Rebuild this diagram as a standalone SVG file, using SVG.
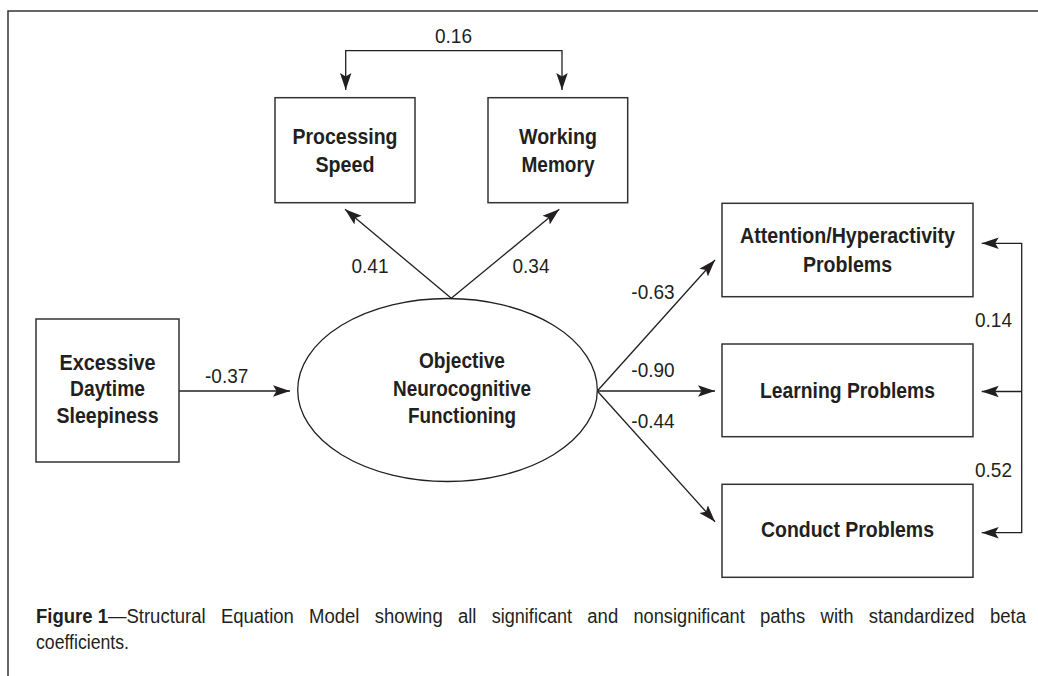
<svg xmlns="http://www.w3.org/2000/svg" width="1038" height="676" viewBox="0 0 1038 676">
<style>
.box{fill:#fff;stroke:#333;stroke-width:1.5}
.ell{fill:#fff;stroke:#231f20;stroke-width:1.3}
.frame{fill:none;stroke:#333;stroke-width:1.5}
.con{fill:none;stroke:#231f20;stroke-width:1.3}
.lbl{font-family:"Liberation Sans",Arial,sans-serif;font-size:22px;font-weight:bold;fill:#231f20;text-anchor:middle}
.num{font-family:"Liberation Sans",Arial,sans-serif;font-size:21px;fill:#231f20;text-anchor:middle}
.cap{font-family:"Liberation Sans",Arial,sans-serif;font-size:19.5px;fill:#231f20}
</style>
<defs>
<marker id="ah" markerWidth="19" markerHeight="13" refX="17" refY="6.5" orient="auto-start-reverse" markerUnits="userSpaceOnUse">
<path d="M0,0.8 L17,6.5 L0,12.2 L3.5,6.5 Z" fill="#231f20"/>
</marker>
</defs>
<rect width="1038" height="676" fill="#fff"/>
<path class="frame" d="M8,676 V11 H1038"/>

<g id="connectors">
<path class="con" d="M345.7,90 V50.7 H562 V90" marker-start="url(#ah)" marker-end="url(#ah)"/>
<line class="con" x1="179" y1="391" x2="290" y2="391" marker-end="url(#ah)"/>
<line class="con" x1="451.3" y1="298.3" x2="345" y2="209.3" marker-end="url(#ah)"/>
<line class="con" x1="451.3" y1="298.3" x2="559.3" y2="209.3" marker-end="url(#ah)"/>
<line class="con" x1="597.3" y1="391" x2="715" y2="260" marker-end="url(#ah)"/>
<line class="con" x1="597.3" y1="391" x2="715" y2="391" marker-end="url(#ah)"/>
<line class="con" x1="597.3" y1="391" x2="715" y2="521.7" marker-end="url(#ah)"/>
<path class="con" d="M981.7,243.3 H1021.7 V532.7 H981.7" marker-start="url(#ah)" marker-end="url(#ah)"/>
<line class="con" x1="1021.7" y1="391.5" x2="981.7" y2="391.5" marker-end="url(#ah)"/>
<text class="num" x="453.5" y="43.3" textLength="37" lengthAdjust="spacingAndGlyphs">0.16</text>
<text class="num" x="226.7" y="383.3" textLength="43.3" lengthAdjust="spacingAndGlyphs">-0.37</text>
<text class="num" x="370" y="272.7" textLength="37" lengthAdjust="spacingAndGlyphs">0.41</text>
<text class="num" x="531" y="272.7" textLength="37" lengthAdjust="spacingAndGlyphs">0.34</text>
<text class="num" x="653" y="299" textLength="43.3" lengthAdjust="spacingAndGlyphs">-0.63</text>
<text class="num" x="653" y="376.7" textLength="43.3" lengthAdjust="spacingAndGlyphs">-0.90</text>
<text class="num" x="653" y="427.7" textLength="43.3" lengthAdjust="spacingAndGlyphs">-0.44</text>
<text class="num" x="993.5" y="326.7" textLength="37" lengthAdjust="spacingAndGlyphs">0.14</text>
<text class="num" x="993.5" y="476.7" textLength="37" lengthAdjust="spacingAndGlyphs">0.52</text>
</g>

<g id="processing-speed">
<rect class="box" x="275" y="97.7" width="140" height="105"/>
<text class="lbl" x="345" y="144" textLength="105" lengthAdjust="spacingAndGlyphs">Processing</text>
<text class="lbl" x="345" y="171.7" textLength="59" lengthAdjust="spacingAndGlyphs">Speed</text>
</g>

<g id="working-memory">
<rect class="box" x="488" y="97.7" width="139.7" height="105"/>
<text class="lbl" x="558" y="144" textLength="78" lengthAdjust="spacingAndGlyphs">Working</text>
<text class="lbl" x="558" y="171.7" textLength="73" lengthAdjust="spacingAndGlyphs">Memory</text>
</g>

<g id="excessive-daytime-sleepiness">
<rect class="box" x="36" y="319" width="143" height="143"/>
<text class="lbl" x="107.5" y="369.5" textLength="96" lengthAdjust="spacingAndGlyphs">Excessive</text>
<text class="lbl" x="107.5" y="396" textLength="75" lengthAdjust="spacingAndGlyphs">Daytime</text>
<text class="lbl" x="107.5" y="422.5" textLength="102" lengthAdjust="spacingAndGlyphs">Sleepiness</text>
</g>

<g id="objective-neurocognitive-functioning">
<ellipse class="ell" cx="447.5" cy="390" rx="149.8" ry="91.5"/>
<text class="lbl" x="462" y="368.3" textLength="86" lengthAdjust="spacingAndGlyphs">Objective</text>
<text class="lbl" x="462" y="395.5" textLength="138" lengthAdjust="spacingAndGlyphs">Neurocognitive</text>
<text class="lbl" x="462" y="423.3" textLength="108" lengthAdjust="spacingAndGlyphs">Functioning</text>
</g>

<g id="attention-hyperactivity-problems">
<rect class="box" x="722" y="203.3" width="251" height="93.4"/>
<text class="lbl" x="847.5" y="243.3" textLength="215" lengthAdjust="spacingAndGlyphs">Attention/Hyperactivity</text>
<text class="lbl" x="847.5" y="271.7" textLength="89" lengthAdjust="spacingAndGlyphs">Problems</text>
</g>

<g id="learning-problems">
<rect class="box" x="722" y="344" width="251" height="92.7"/>
<text class="lbl" x="847.5" y="398.3" textLength="175" lengthAdjust="spacingAndGlyphs">Learning Problems</text>
</g>

<g id="conduct-problems">
<rect class="box" x="722" y="484.3" width="251" height="93"/>
<text class="lbl" x="847.5" y="537.3" textLength="173" lengthAdjust="spacingAndGlyphs">Conduct Problems</text>
</g>

<g id="caption">
<text class="cap" x="36" y="623" font-weight="bold" textLength="72" lengthAdjust="spacingAndGlyphs">Figure 1</text>
<text class="cap" x="108" y="623" textLength="97.6" lengthAdjust="spacingAndGlyphs">—Structural</text>
<text class="cap" x="220.9" y="623" textLength="73" lengthAdjust="spacingAndGlyphs">Equation</text>
<text class="cap" x="309.1" y="623" textLength="50.4" lengthAdjust="spacingAndGlyphs">Model</text>
<text class="cap" x="374.8" y="623" textLength="67.9" lengthAdjust="spacingAndGlyphs">showing</text>
<text class="cap" x="457.9" y="623" textLength="18.5" lengthAdjust="spacingAndGlyphs">all</text>
<text class="cap" x="491.7" y="623" textLength="80.4" lengthAdjust="spacingAndGlyphs">significant</text>
<text class="cap" x="587.3" y="623" textLength="30.9" lengthAdjust="spacingAndGlyphs">and</text>
<text class="cap" x="633.5" y="623" textLength="111.3" lengthAdjust="spacingAndGlyphs">nonsignificant</text>
<text class="cap" x="760" y="623" textLength="45.3" lengthAdjust="spacingAndGlyphs">paths</text>
<text class="cap" x="820.6" y="623" textLength="32.9" lengthAdjust="spacingAndGlyphs">with</text>
<text class="cap" x="868.7" y="623" textLength="105.9" lengthAdjust="spacingAndGlyphs">standardized</text>
<text class="cap" x="990" y="623" textLength="36" lengthAdjust="spacingAndGlyphs">beta</text>
<text class="cap" x="36" y="649" textLength="93" lengthAdjust="spacingAndGlyphs">coefficients.</text>
</g>
</svg>
